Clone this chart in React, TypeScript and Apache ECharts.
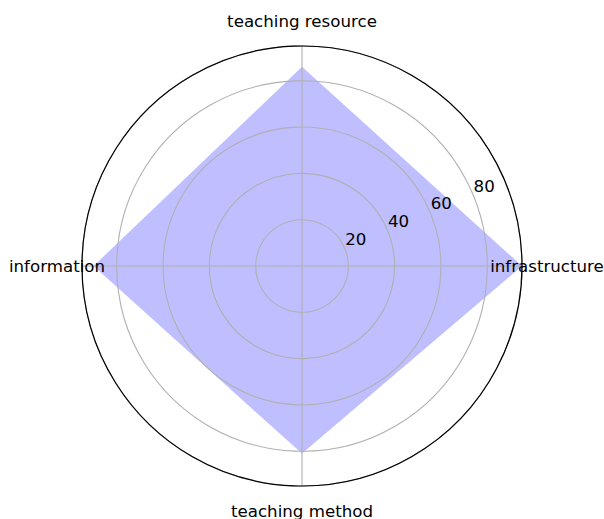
import React, { useEffect, useRef } from "react";
import * as echarts from "echarts";

const categories = ["infrastructure", "teaching resource", "information", "teaching method"];
const angles = [0, 90, 180, 270];
const values = [95, 86, 90, 81];
const radialTicks = [20, 40, 60, 80];
const rMax = 95;

export default function App() {
  const ref = useRef<HTMLDivElement>(null);
  useEffect(() => {
    document.body.style.margin = "0";
    const chart = echarts.init(ref.current!, undefined, { renderer: "svg" });
    const pts = values.map((v, i) => [v, angles[i]]);
    pts.push([values[0], 360]);
    const font = "DejaVu Sans";
    const fs = 16.67;
    const center = [302, 266];
    chart.setOption({
      animation: false,
      backgroundColor: "#ffffff",
      polar: [
        { center, radius: 220 },
        { center, radius: 220 },
        { center, radius: 245 },
      ],
      angleAxis: [
        {
          polarIndex: 0,
          type: "value",
          min: 0,
          max: 360,
          interval: 90,
          startAngle: 0,
          clockwise: false,
          axisLine: { show: true, lineStyle: { color: "#000000", width: 1.2 } },
          axisTick: { show: false },
          splitLine: { show: true, lineStyle: { color: "#b0b0b0", width: 1.1 } },
          axisLabel: { show: false },
          z: 4,
        },
        { polarIndex: 1, type: "value", min: 0, max: 360, startAngle: 22.5, clockwise: false, show: false },
        { polarIndex: 2, type: "value", min: 0, max: 360, startAngle: 0, clockwise: false, show: false },
      ],
      radiusAxis: [
        {
          polarIndex: 0,
          type: "value",
          min: 0,
          max: rMax,
          interval: 20,
          axisLine: { show: false },
          axisTick: { show: false },
          axisLabel: { show: false },
          splitLine: { show: true, lineStyle: { color: "#b0b0b0", width: 1.1 } },
          z: 4,
        },
        { polarIndex: 1, type: "value", min: 0, max: rMax, show: false },
        { polarIndex: 2, type: "value", min: 0, max: 1, show: false },
      ],
      series: [
        {
          type: "line",
          coordinateSystem: "polar",
          polarIndex: 0,
          data: pts,
          symbol: "none",
          lineStyle: { width: 0 },
          areaStyle: { color: "rgba(0,0,255,0.25)", opacity: 1 },
          z: 1,
        },
        {
          type: "scatter",
          coordinateSystem: "polar",
          polarIndex: 1,
          symbolSize: 0,
          itemStyle: { opacity: 1 },
          data: radialTicks.map((t) => [t, 0]),
          label: {
            show: true,
            position: "inside",
            offset: [11, -9],
            color: "#000000",
            opacity: 1,
            textBorderWidth: 0,
            fontFamily: font,
            fontSize: fs,
            formatter: (p: any) => String(p.value[0]),
          },
          silent: true,
          z: 6,
        },
        {
          type: "scatter",
          coordinateSystem: "polar",
          polarIndex: 2,
          symbolSize: 0,
          itemStyle: { opacity: 1 },
          data: angles.map((a) => [1, a]),
          label: {
            show: true,
            position: "inside",
            color: "#000000",
            opacity: 1,
            textBorderWidth: 0,
            fontFamily: font,
            fontSize: fs,
            formatter: (p: any) => categories[p.dataIndex],
          },
          silent: true,
          z: 6,
        },
      ],
    });
    return () => chart.dispose();
  }, []);
  return <div ref={ref} style={{ width: 604, height: 519 }} />;
}
